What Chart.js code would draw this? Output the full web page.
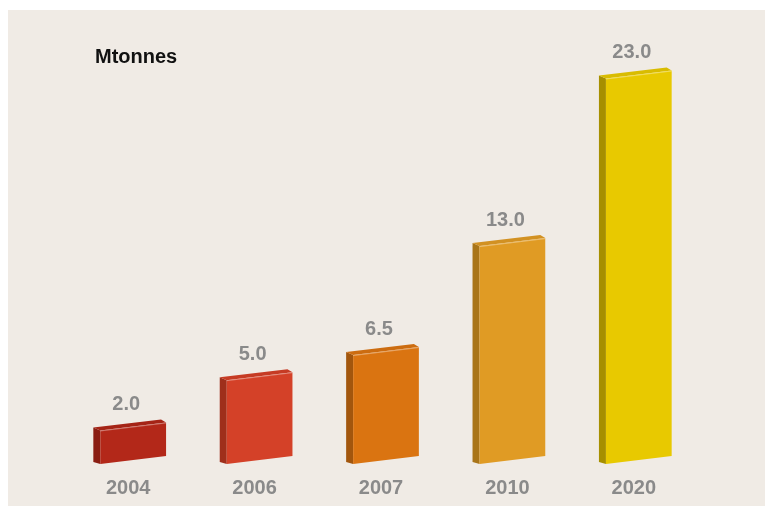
<!DOCTYPE html>
<html>
<head>
<meta charset="utf-8">
<script src="https://cdn.jsdelivr.net/npm/chart.js@4/dist/chart.umd.min.js"></script>
<style>
  html, body { margin: 0; padding: 0; background: #ffffff; }
  #panel { position: absolute; left: 8px; top: 10px; width: 757px; height: 496px; background: #f0ebe5; overflow: hidden; }
  #wrap { position: relative; width: 757px; height: 512px; }
</style>
</head>
<body>
<div id="panel"><div id="wrap"><canvas id="chart"></canvas></div></div>
<script>
// data
const years = ['2004', '2006', '2007', '2010', '2020'];
const mtonnes = [2.0, 5.0, 6.5, 13.0, 23.0];
const unitLabel = 'Mtonnes';

// colours: front, left side, top
const frontCols = ['#b32819', '#d44128', '#da7411', '#e09b24', '#e8c900'];
const sideCols = ['#8a1d12', '#9f2f1b', '#a2560d', '#a97519', '#a68f00'];
const topCols = ['#a52416', '#c63b24', '#cc6c10', '#d29122', '#d9bc00'];

// draws the slanted 3d boxes from the bar elements
const boxes = {
  id: 'boxes',
  afterDatasetsDraw(chart) {
    const ctx = chart.ctx;
    const meta = chart.getDatasetMeta(0);
    const slope = 8, dx = 7, dy = 3;
    ctx.save();
    meta.data.forEach(function (bar, i) {
      const p = bar.getProps(['x', 'y', 'base', 'width'], true);
      const xl = p.x - p.width / 2, xr = p.x + p.width / 2;
      const tl = p.y + slope / 2, tr = p.y - slope / 2;
      const bl = p.base + slope / 2, br = p.base - slope / 2;

      // left side
      ctx.fillStyle = sideCols[i];
      ctx.beginPath();
      ctx.moveTo(xl - dx, tl - dy);
      ctx.lineTo(xl, tl);
      ctx.lineTo(xl, bl);
      ctx.lineTo(xl - dx, bl - 2);
      ctx.closePath();
      ctx.fill();

      // top
      ctx.fillStyle = topCols[i];
      ctx.beginPath();
      ctx.moveTo(xl - dx, tl - dy);
      ctx.lineTo(xr - dx + 2, tr - dy);
      ctx.lineTo(xr, tr);
      ctx.lineTo(xl, tl);
      ctx.closePath();
      ctx.fill();

      // front
      ctx.fillStyle = frontCols[i];
      ctx.beginPath();
      ctx.moveTo(xl, tl);
      ctx.lineTo(xr, tr);
      ctx.lineTo(xr, br);
      ctx.lineTo(xl, bl);
      ctx.closePath();
      ctx.fill();

      // light edge on top front
      ctx.strokeStyle = 'rgba(255,255,255,0.35)';
      ctx.lineWidth = 1;
      ctx.beginPath();
      ctx.moveTo(xl, tl + 0.5);
      ctx.lineTo(xr, tr + 0.5);
      ctx.stroke();

      // value
      ctx.fillStyle = '#8a8a8a';
      ctx.font = 'bold 20px "Liberation Sans", Arial, sans-serif';
      ctx.textAlign = 'center';
      ctx.textBaseline = 'middle';
      ctx.fillText(mtonnes[i].toFixed(1), p.x - 7, p.y - 22);
    });

    ctx.fillStyle = '#111111';
    ctx.font = 'bold 20px "Liberation Sans", Arial, sans-serif';
    ctx.textAlign = 'left';
    ctx.textBaseline = 'middle';
    ctx.fillText(unitLabel, 87, 47);
    ctx.restore();
  }
};

new Chart(document.getElementById('chart'), {
  type: 'bar',
  data: {
    labels: years,
    datasets: [{
      data: mtonnes,
      backgroundColor: 'rgba(0,0,0,0)',
      barPercentage: 0.52,
      categoryPercentage: 1
    }]
  },
  options: {
    responsive: true,
    maintainAspectRatio: false,
    animation: false,
    layout: { padding: { left: 62, right: 63, top: 31, bottom: 6 } },
    plugins: {
      legend: { display: false },
      tooltip: { enabled: false }
    },
    scales: {
      x: {
        grid: { display: false, drawTicks: false },
        border: { display: false },
        ticks: {
          color: '#8a8a8a',
          padding: 16,
          labelOffset: -5,
          font: { family: '"Liberation Sans", Arial, sans-serif', size: 20, weight: 'bold' }
        }
      },
      y: {
        display: false,
        min: 0,
        max: 25
      }
    }
  },
  plugins: [boxes]
});
</script>
</body>
</html>
